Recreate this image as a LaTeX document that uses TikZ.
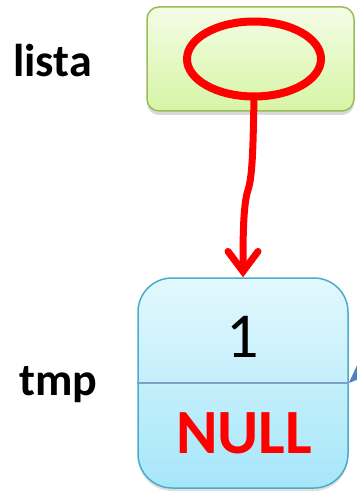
\documentclass[tikz,border=0pt]{standalone}
\usepackage{fontspec}
\setmainfont{Carlito}
\usetikzlibrary{shapes.geometric,arrows.meta,shadows}
\definecolor{boxgreen}{RGB}{155,187,89}
\definecolor{greentop}{RGB}{244,252,230}
\definecolor{greenbot}{RGB}{214,245,165}
\definecolor{boxblue}{RGB}{75,172,198}
\definecolor{bluetop}{RGB}{226,248,254}
\definecolor{bluebot}{RGB}{166,230,249}
\definecolor{divblue}{RGB}{126,160,200}
\definecolor{linkblue}{RGB}{79,129,189}

\begin{document}
\begin{tikzpicture}[x=1pt,y=-1pt]
        \useasboundingbox (0,0) rectangle (356,492);

        % variable lista
        \node[draw=boxgreen, line width=1.5pt, rounded corners=12pt,
        top color=greentop, bottom color=greenbot, minimum width=207pt,
        minimum height=104pt,
        drop shadow={opacity=0.3, shadow xshift=0pt, shadow yshift=-4pt}]
        (listabox) at (250.5,59) {};
        \node[anchor=base, font=\fontsize{46}{50}\selectfont\bfseries] (lista) at (52.5,77) {lista};
        \node[ellipse, draw=red, line width=8pt, minimum width=134pt,
        minimum height=75pt, inner sep=0pt] (ptr) at (254,59) {};

        % node tmp
        \node[draw=boxblue, line width=1.5pt, rounded corners=34pt,
        top color=bluetop, bottom color=bluebot, minimum width=210pt,
        minimum height=210pt,
        drop shadow={opacity=0.25, shadow xshift=0pt, shadow yshift=-3pt}]
        (tmpbox) at (243,383) {};
        \draw[divblue, line width=1.5pt] (tmpbox.west) -- (tmpbox.east);
        \node[anchor=base, font=\fontsize{46}{50}\selectfont\bfseries] (tmp) at (58.5,395) {tmp};
        \node[anchor=base, font=\fontsize{64}{70}\selectfont] (value) at (243,357) {1};
        \node[anchor=base, text=red, font=\fontsize{63}{70}\selectfont\bfseries] (next) at (244,453) {NULL};

        % pointers
        \draw[red, line width=7pt, line cap=round,
        -{Straight Barb[length=20pt, width=30pt, line cap=round]}]
        (ptr.south) .. controls (253,140) and (253,175) .. (248,190)
        .. controls (243,205) and (243,240) .. (tmpbox.north);
        \coordinate (prev) at (400,335);
        \draw[linkblue, line width=1.5pt, -{Triangle[length=18pt, width=14pt]}] (prev) -- (tmpbox.east);
\end{tikzpicture}
\end{document}
